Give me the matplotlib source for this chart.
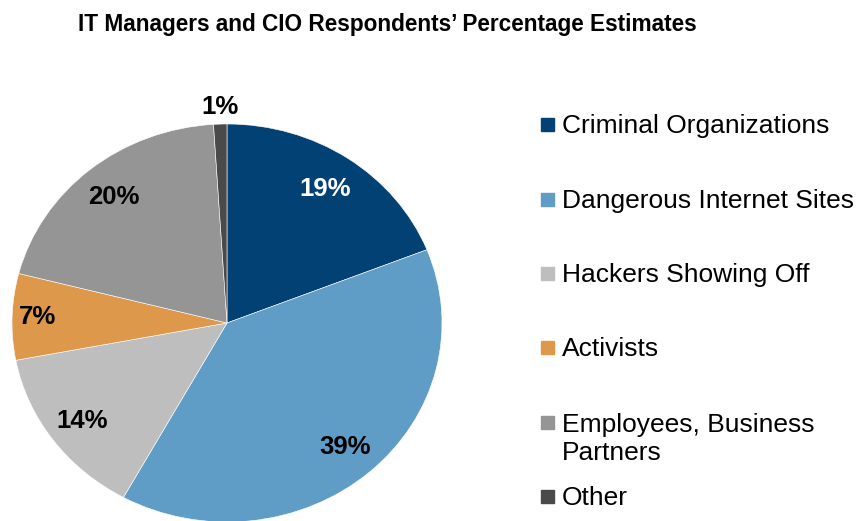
import matplotlib

matplotlib.use("Agg")
import matplotlib.pyplot as plt
import numpy as np
from matplotlib.patches import Rectangle

plt.rcParams["font.family"] = ["Liberation Sans", "DejaVu Sans"]

# survey shares, clockwise from 12 o'clock
categories = [
    "Criminal Organizations",
    "Dangerous Internet Sites",
    "Hackers Showing Off",
    "Activists",
    "Employees, Business\nPartners",
    "Other",
]
shares = [19, 39, 14, 7, 20, 1]
colors = ["#014173", "#5F9CC6", "#BEBEBE", "#DD984B", "#959595", "#4A4A4A"]
label_colors = ["white", "black", "black", "black", "black", "black"]
label_radius = [0.815, 0.83, 0.835, 0.88, 0.825, 1.085]

W, H = 861, 521
fig = plt.figure(figsize=(W / 100, H / 100), dpi=100)


def px(x, y):
    """pixel (from top-left) -> figure fraction"""
    return x / W, 1 - y / H


fig.text(*px(78, 31), "IT Managers and CIO Respondents\u2019 Percentage Estimates",
         fontsize=16.3, fontweight="bold", va="baseline", ha="left")

# pie is slightly wider than tall, so the axes aspect is left free
ax = fig.add_axes([12 / W, -1 / H, 430 / W, 398 / H])
wedges, _ = ax.pie(shares, colors=colors, startangle=90, counterclock=False,
                   radius=1.0, wedgeprops=dict(edgecolor="white", linewidth=0.4))
ax.set_xlim(-1, 1)
ax.set_ylim(-1, 1)
ax.set_aspect("auto")
ax.axis("off")

for w, val, tc, r in zip(wedges, shares, label_colors, label_radius):
    mid = np.deg2rad((w.theta1 + w.theta2) / 2)
    ax.text(r * np.cos(mid), r * np.sin(mid), f"{val}%", color=tc,
            fontsize=18.5, fontweight="bold", ha="center", va="center",
            clip_on=False)

# legend drawn by hand to get the wide row spacing
row_baselines = [133, 208, 282, 356, 431, 505]
line_gap = 29
for name, col, yb in zip(categories, colors, row_baselines):
    fig.patches.append(Rectangle(px(541, yb - 2), 13 / W, 13 / H, color=col,
                                 transform=fig.transFigure, figure=fig))
    # baseline alignment follows the last line of multi-line text
    last = yb + line_gap * name.count("\n")
    fig.text(*px(562, last), name, fontsize=19, va="baseline", ha="left",
             linespacing=1.2)

fig.savefig("out.png", dpi=100)
